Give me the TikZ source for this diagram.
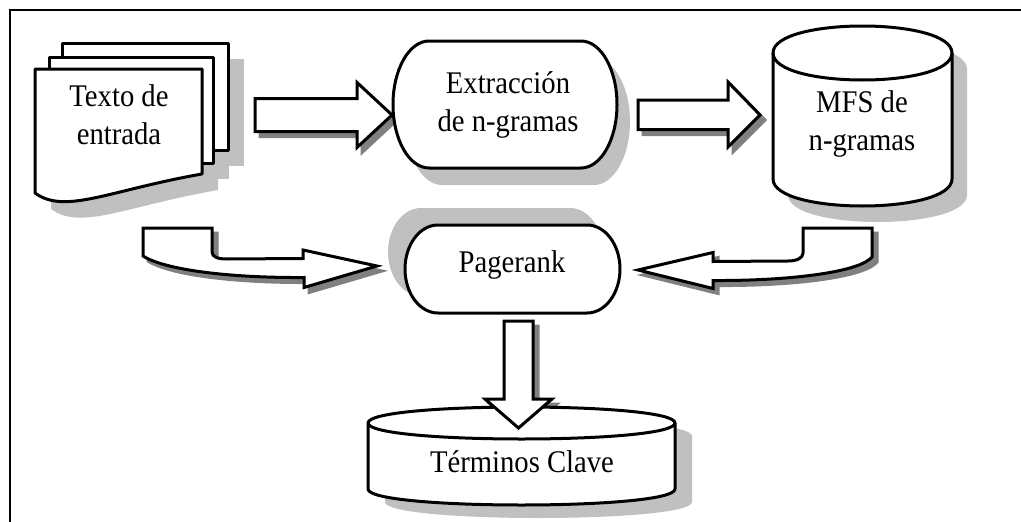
\documentclass[tikz,border=0pt]{standalone}
\usepackage{fontspec}
\setmainfont{Liberation Serif}[FakeStretch=0.91]
\definecolor{softshade}{HTML}{C0C0C0}
\definecolor{hardshade}{HTML}{808080}

% terminator outline: left x, right x, top y, bottom y, end radius
\newcommand{\termpath}[5]{({#1+#5},#3) -- ({#2-#5},#3)
  arc[start angle=-90,end angle=90,x radius=#5,y radius={(#4-#3)/2}]
  -- ({#1+#5},#4)
  arc[start angle=90,end angle=270,x radius=#5,y radius={(#4-#3)/2}] -- cycle}
% cylinder body: left x, right x, top rim y, bottom rim y, rim radius
\newcommand{\cylpath}[5]{(#1,#3) -- (#1,#4)
  .. controls (#1,{#4+4/3*#5}) and (#2,{#4+4/3*#5}) .. (#2,#4) -- (#2,#3)
  .. controls (#2,{#3-4/3*#5}) and (#1,{#3-4/3*#5}) .. (#1,#3) -- cycle}
\newcommand{\cylrim}[5]{(#1,#3) .. controls (#1,{#3+4/3*#5}) and (#2,{#3+4/3*#5}) .. (#2,#3)}
% stacked document sheets
\newcommand{\sheetback}{(62,43) rectangle (228,150)}
\newcommand{\sheetmid}{(49,57) rectangle (213,163)}
\newcommand{\sheetfront}{(35,69) -- (202,69) -- (202,174) .. controls (110,190) and (65,215) .. (35,193) -- cycle}
% block arrows
\newcommand{\flowDocExt}{(255,98.5) -- (357,98.5) -- (357,82.5) -- (392,115) -- (357,147.5) -- (357,131.5) -- (255,131.5) -- cycle}
\newcommand{\flowExtMfs}{(638,100) -- (728,100) -- (728,82) -- (760,115) -- (728,147) -- (728,129.5) -- (638,129.5) -- cycle}
\newcommand{\flowPrTc}{(504,321) -- (533,321) -- (533,399) -- (552,399) -- (518.5,428) -- (485,399) -- (504,399) -- cycle}
\newcommand{\flowDocPr}{(143,228) -- (212,228) -- (212,252) .. controls (212,257) and (218,259) .. (227,259) -- (303,258.5) -- (303,250) -- (377,266) -- (304,287.5) -- (304,277.5) .. controls (230,278) and (165,270) .. (143,256) -- cycle}
\newcommand{\flowMfsPr}{(872,228) -- (803,228) -- (803,253) .. controls (803,258) and (797,261) .. (788,261) -- (713,261.5) -- (713,252.5) -- (638,270) -- (713,288.5) -- (713,280.5) .. controls (790,281) and (860,272) .. (872,257) -- cycle}

\begin{document}
\begin{tikzpicture}[x=1pt,y=-1pt,
  outline/.style={draw=black,line width=3pt,fill=white,line join=round},
  blockflow/.style={draw=black,line width=3pt,fill=white,line join=miter},
  flowshade/.style={draw=hardshade,fill=hardshade,line width=3pt,line join=miter},
  boxshade/.style={fill=softshade},
  boxtext/.style={font=\fontsize{31.5}{38}\selectfont,align=center,inner sep=0pt}]
\useasboundingbox (0,0) rectangle (1021,522);
\clip (0,0) rectangle (1021,522);

% frame
\draw[line width=1.8pt] (10,540) -- (10,10) -- (1040,10);

% soft shadows of the shapes
\begin{scope}[shift={(16,16)}]
  \fill[boxshade] \sheetback;
  \fill[boxshade] \sheetmid;
  \fill[boxshade] \sheetfront;
\end{scope}
\fill[boxshade,shift={(13,17)}] \termpath{393}{617}{41}{168}{36};
\fill[boxshade,shift={(15,16)}] \cylpath{773}{952}{53}{179}{27};
\fill[boxshade,shift={(-17,-17)}] \termpath{405}{620}{225}{313}{33};
\fill[boxshade,shift={(17,13)}] \cylpath{368}{675}{423}{489}{16};

% hard shadows of the arrows
\begin{scope}[shift={(5,5)}]
  \filldraw[flowshade] \flowDocExt;
  \filldraw[flowshade] \flowExtMfs;
  \filldraw[flowshade] \flowPrTc;
  \filldraw[flowshade] \flowDocPr;
  \filldraw[flowshade] \flowMfsPr;
\end{scope}

% arrows
\filldraw[blockflow] \flowDocExt;
\filldraw[blockflow] \flowExtMfs;
\filldraw[blockflow] \flowDocPr;
\filldraw[blockflow] \flowMfsPr;

% input documents
\filldraw[outline] \sheetback;
\filldraw[outline] \sheetmid;
\filldraw[outline] \sheetfront;

% process boxes
\filldraw[outline] \termpath{393}{617}{41}{168}{36};
\filldraw[outline] \termpath{405}{620}{225}{313}{33};

% storages
\filldraw[outline] \cylpath{773}{952}{53}{179}{27};
\draw[outline,fill=none] \cylrim{773}{952}{53}{179}{27};
\filldraw[outline] \cylpath{368}{675}{423}{489}{16};
\draw[outline,fill=none] \cylrim{368}{675}{423}{489}{16};

% arrow into the result store
\filldraw[blockflow] \flowPrTc;

% labels
\node[boxtext] (doc) at (119,115) {Texto de\\entrada};
\node[boxtext] (ext) at (508,105) {Extracción\\de n-gramas};
\node[boxtext] (mfs) at (862,124) {MFS de\\n-gramas};
\node[boxtext] (pr)  at (512,264.5) {Pagerank};
\node[boxtext] (tc)  at (522,461.5) {Términos Clave};
\end{tikzpicture}
\end{document}
